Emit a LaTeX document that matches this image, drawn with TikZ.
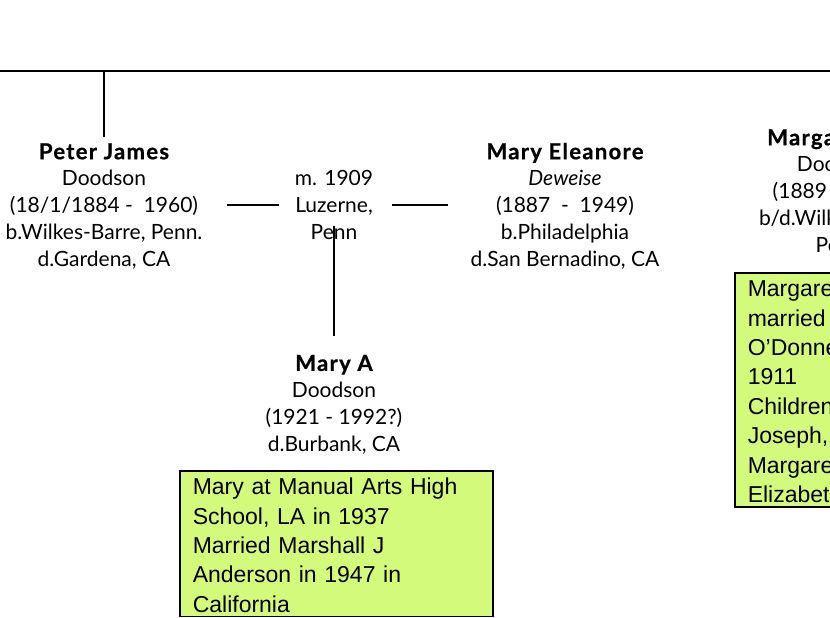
\documentclass[tikz,border=0pt]{standalone}
\usepackage{fontspec}
\setmainfont{Lato}
\newfontfamily\notefont{Liberation Sans}
\definecolor{notegreen}{RGB}{212,250,124}
\newcommand\pname[1]{{\bfseries\addfontfeature{LetterSpace=6,FakeBold=0.8}%
  \fontsize{22}{26.7}\selectfont #1}}
\begin{document}
\begin{tikzpicture}
  [x=1pt,y=-1pt,
   person/.style=
     {align=center,inner sep=0pt,anchor=base,
      font=\fontsize{21}{26.7}\selectfont},
   note/.style=
     {draw,line width=1.5pt,fill=notegreen,anchor=north west,
      align=left,inner xsep=13pt,inner ysep=4pt,text height=20pt,
      font=\notefont\fontsize{23}{29.4}\selectfont},
   link/.style={line width=2pt}
  ]
  \useasboundingbox (0,0) rectangle (830,618);
  \clip (0,0) rectangle (830,618);
  \coordinate (lineL) at (0,71);
  \coordinate (lineR) at (830,71);
  \coordinate (peterup) at (104,71);
  \node[person] (peter) at (104,266)
    {\pname{Peter James}\\Doodson\\(18/1/1884 -\ \ 1960)\\
     b.Wilkes-Barre, Penn.\\d.Gardena, CA};
  \node[person,anchor=center] (wed) at (334,205)
    {m. 1909\\Luzerne,\\Penn};
  \node[person] (eleanore) at (565,266)
    {\pname{Mary Eleanore}\\\textit{Deweise}\\(1887\ \ -\ \ 1949)\\
     b.Philadelphia\\d.San Bernadino, CA};
  \node[person] (marya) at (334,451)
    {\pname{Mary A}\\Doodson\\(1921 - 1992?)\\d.Burbank, CA};
  \node[person] (marg) at (839,252)
    {\pname{Margaret}\hspace*{44pt}\\Doodson\\(1889 -\phantom{\ \ 1960)}\\
     b/d.Wilkes-Barre,\\Penn};
  \node[note,text width=287pt] (noteA) at (179,470)
    {Mary at Manual Arts High\\School, LA in 1937\\Married Marshall J\\
     Anderson in 1947 in\\California};
  \node[note,text width=150pt] (noteM) at (734,272)
    {Margaret\\married\\O’Donnell\\1911\\Children:\\Joseph,\\Margaret,\\
     Elizabeth};
  \draw[link] (lineL) -- (lineR);
  \draw[link] (peterup) -- ([yshift=6pt]peter.north);
  \draw[link,shorten <=24pt,shorten >=16pt]
    (peter.east |- wed.west) -- (wed.west);
  \draw[link,shorten <=19pt,shorten >=22pt]
    (wed.east) -- (eleanore.west |- wed.east);
  \draw[link] ([yshift=-21pt]wed.center) -- ([yshift=19pt]marya.north);
\end{tikzpicture}
\end{document}
